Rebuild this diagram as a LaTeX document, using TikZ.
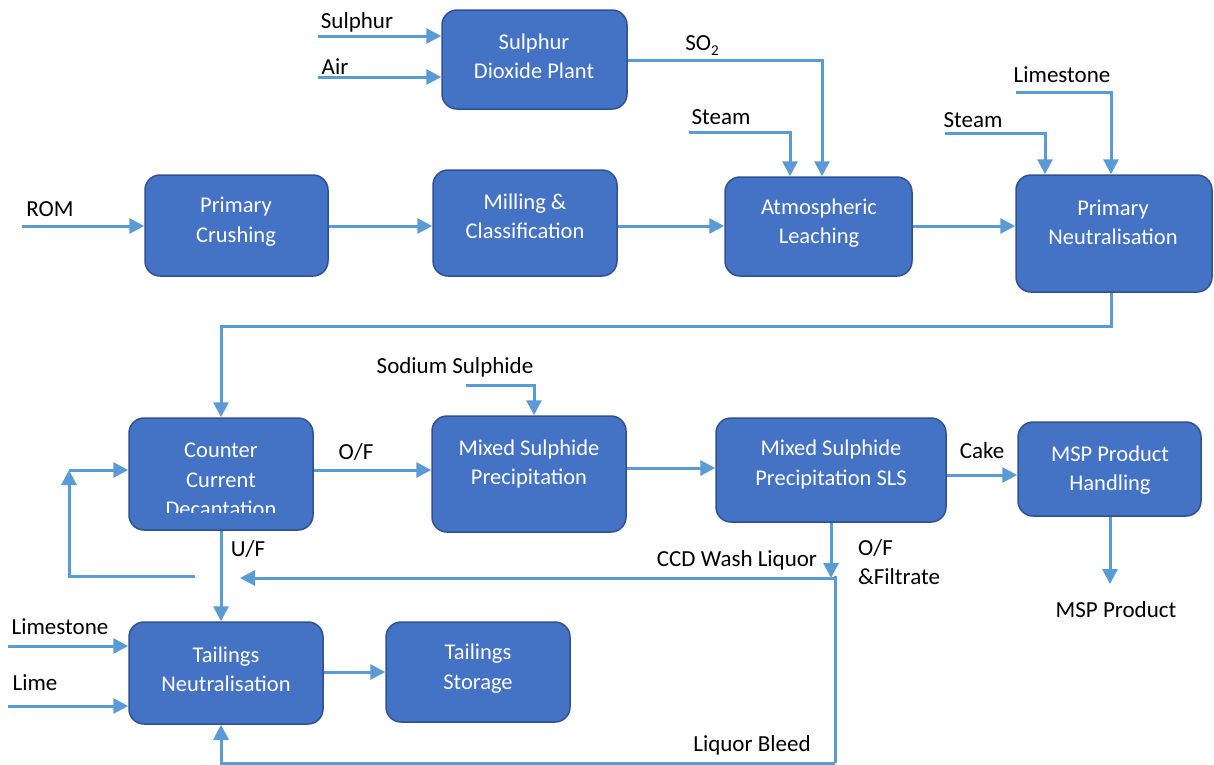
\documentclass[tikz,border=0pt]{standalone}
\usepackage{fontspec}
\setmainfont{Carlito}
\usetikzlibrary{arrows.meta}
\definecolor{boxfill}{HTML}{4472C4}
\definecolor{boxline}{HTML}{2F528F}
\definecolor{flow}{HTML}{5B9BD5}
\tikzset{
  unit/.style={draw=boxline, fill=boxfill, line width=1.5pt, rounded corners=15pt, inner sep=0pt},
  utext/.style={text=white, align=center, font=\fontsize{22.5}{29.5}\selectfont, inner sep=0pt},
  lbl/.style={text=black, font=\fontsize{23}{29}\selectfont, inner sep=0pt},
  flowline/.style={draw=flow, line width=3pt},
  arr/.style={flowline, -{Triangle[length=15pt,width=15pt]}},
}
\begin{document}
\begin{tikzpicture}[x=1pt,y=-1pt]
\useasboundingbox (0,0) rectangle (1214,764);
% boxes as nodes
\node[unit, minimum width=185pt, minimum height=99pt] (so2p) at (534.5,59.5) {};
\node[unit, minimum width=183pt, minimum height=101pt] (pc) at (236.5,225.5) {};
\node[unit, minimum width=184pt, minimum height=106pt] (mc) at (525,223) {};
\node[unit, minimum width=187pt, minimum height=99pt] (al) at (818.5,226.5) {};
\node[unit, minimum width=196pt, minimum height=117pt] (pn) at (1114,233.5) {};
\node[unit, minimum width=184pt, minimum height=112pt] (ccd) at (221,474) {};
\node[unit, minimum width=194pt, minimum height=116pt] (msp) at (529,474) {};
\node[unit, minimum width=230pt, minimum height=104pt] (sls) at (831,470) {};
\node[unit, minimum width=183pt, minimum height=94pt] (msph) at (1109.5,469) {};
\node[unit, minimum width=194pt, minimum height=102pt] (tn) at (226,673) {};
\node[unit, minimum width=184pt, minimum height=100pt] (ts) at (478,672) {};
% box texts
\node[utext] (t-so2p) at (534,56.5) {Sulphur\\Dioxide Plant};
\node[utext] (t-pc) at (236,221.5) {Primary\\Crushing};
\node[utext] (t-mc) at (525,216.5) {Milling \&\\Classification};
\node[utext] (t-al) at (819,223) {Atmospheric\\Leaching};
\node[utext] (t-pn) at (1113,222.5) {Primary\\Neutralisation};
\begin{scope}
\clip (129,418) rectangle (313,512.5);
\node[utext] (t-ccd) at (221,480) {Counter\\Current\\Decantation};
\end{scope}
\node[utext] (t-msp) at (529,464) {Mixed Sulphide\\Precipitation};
\node[utext] (t-sls) at (831,464.5) {Mixed Sulphide\\Precipitation SLS};
\node[utext] (t-msph) at (1110,470) {MSP Product\\Handling};
\node[utext] (t-tn) at (226,669.5) {Tailings\\Neutralisation};
\node[utext] (t-ts) at (478,668.5) {Tailings\\Storage};
% labels
\node[lbl] (l-sul) at (357,22) {Sulphur};
\node[lbl] (l-air) at (335,67) {Air};
\node[lbl] (l-so2) at (702,46) {SO\raisebox{-0.45ex}{\fontsize{15}{15}\selectfont 2}};
\node[lbl] (l-steam1) at (721,117) {Steam};
\node[lbl] (l-rom) at (50,209) {ROM};
\node[lbl] (l-steam2) at (973,120) {Steam};
\node[lbl] (l-lime1) at (1062,75) {Limestone};
\node[lbl] (l-na2s) at (455,367) {Sodium Sulphide};
\node[lbl] (l-of) at (356,452) {O/F};
\node[lbl] (l-cake) at (982,451) {Cake};
\node[lbl] (l-mspp) at (1116,610) {MSP Product};
\node[lbl, anchor=west] (l-of2) at (858,548) {O/F};
\node[lbl, anchor=west] (l-filt) at (858,577) {\&Filtrate};
\node[lbl] (l-wash) at (737,560) {CCD Wash Liquor};
\node[lbl] (l-uf) at (248,549) {U/F};
\node[lbl] (l-lime2) at (60,627) {Limestone};
\node[lbl] (l-lime) at (35,683) {Lime};
\node[lbl] (l-bleed) at (752,745) {Liquor Bleed};
% free-end coordinates
\coordinate (s-sul) at (318,36);
\coordinate (s-air) at (318,77);
\coordinate (s-steam1) at (689,132);
\coordinate (s-rom) at (22,226);
\coordinate (s-steam2) at (945,133);
\coordinate (s-lime1) at (1016,92);
\coordinate (s-na2s) at (466,385);
\coordinate (e-mspp) at (1110,584);
\coordinate (j-of) at (835,578);
\coordinate (e-wash) at (240,578);
\coordinate (s-loop) at (195,576);
\coordinate (c-loop) at (69,470);
\coordinate (s-lime2) at (8,646);
\coordinate (s-lime) at (8,706);
% connectors
\draw[arr] (s-sul) -- (s-sul -| so2p.west);
\draw[arr] (s-air) -- (s-air -| so2p.west);
\draw[arr] (so2p.east |- 0,60) -| (822,0 |- al.north);
\draw[arr] (s-steam1) -| (790,0 |- al.north);
\draw[arr] (s-rom) -- (s-rom -| pc.west);
\draw[arr] (pc.east |- 0,226) -- (mc.west |- 0,226);
\draw[arr] (mc.east |- 0,226) -- (al.west |- 0,226);
\draw[arr] (al.east |- 0,226) -- (pn.west |- 0,226);
\draw[arr] (s-steam2) -| (1045,0 |- pn.north);
\draw[arr] (s-lime1) -| (1111,0 |- pn.north);
\draw[arr] (1111,0 |- pn.south) |- (221,326) -- (ccd.north);
\draw[arr] (ccd.east |- 0,470) -- (msp.west |- 0,470);
\draw[arr] (s-na2s) -| (534,0 |- msp.north);
\draw[arr] (msp.east |- 0,468) -- (sls.west |- 0,468);
\draw[arr] (sls.east |- 0,475) -- (msph.west |- 0,475);
\draw[arr] (msph.south -| 1110,0) -- (e-mspp);
\draw[arr] (sls.south -| 831,0) -- (831,578);
\draw[arr] (j-of) -- (e-wash);
\draw[flowline] (835,576) -- (835,763);
\draw[arr] (835,763) -| (tn.south -| 221,0);
\draw[arr] (ccd.south -| 221,0) -- (tn.north -| 221,0);
\draw[arr] (s-loop) -| (c-loop);
\draw[arr] (c-loop) -- (c-loop -| ccd.west);
\draw[arr] (s-lime2) -- (s-lime2 -| tn.west);
\draw[arr] (s-lime) -- (s-lime -| tn.west);
\draw[arr] (tn.east |- 0,672) -- (ts.west |- 0,672);
\end{tikzpicture}
\end{document}
